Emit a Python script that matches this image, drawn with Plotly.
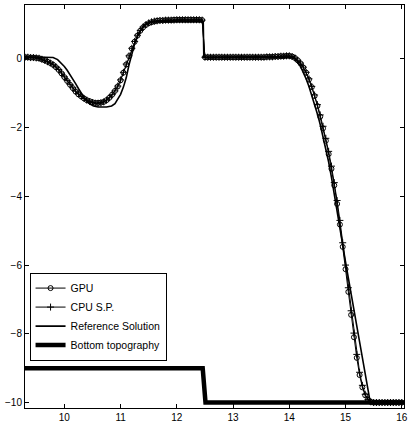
import plotly.graph_objects as go

# Numerical mesh positions (x)
x_grid = [
    9.30, 9.35, 9.40, 9.45, 9.50, 9.55, 9.60, 9.65, 9.70, 9.75,
    9.80, 9.85, 9.90, 9.95, 10.00, 10.05, 10.10, 10.15, 10.20, 10.25,
    10.30, 10.35, 10.40, 10.45, 10.50, 10.55, 10.60, 10.65, 10.70, 10.75,
    10.80, 10.85, 10.90, 10.95, 11.00, 11.05, 11.10, 11.15, 11.20, 11.25,
    11.30, 11.35, 11.40, 11.45, 11.50, 11.55, 11.60, 11.65, 11.70, 11.75,
    11.80, 11.85, 11.90, 11.95, 12.00, 12.05, 12.10, 12.15, 12.20, 12.25,
    12.30, 12.35, 12.40, 12.45, 12.50, 12.55, 12.60, 12.65, 12.70, 12.75,
    12.80, 12.85, 12.90, 12.95, 13.00, 13.05, 13.10, 13.15, 13.20, 13.25,
    13.30, 13.35, 13.40, 13.45, 13.50, 13.55, 13.60, 13.65, 13.70, 13.75,
    13.80, 13.85, 13.90, 13.95, 14.00, 14.05, 14.10, 14.15, 14.20, 14.25,
    14.30, 14.35, 14.40, 14.45, 14.50, 14.55, 14.60, 14.65, 14.70, 14.75,
    14.80, 14.85, 14.90, 14.95, 15.00, 15.05, 15.10, 15.15, 15.20, 15.25,
    15.30, 15.35, 15.40, 15.45, 15.50, 15.55, 15.60, 15.65, 15.70, 15.75,
    15.80, 15.85, 15.90, 15.95, 16.00,
]

gpu_y = [
    0.05, 0.05, 0.04, 0.04, 0.03, 0.02, -0.01, -0.04, -0.08, -0.12,
    -0.17, -0.24, -0.32, -0.42, -0.53, -0.64, -0.75, -0.85, -0.95, -1.03,
    -1.09, -1.15, -1.20, -1.23, -1.26, -1.28, -1.28, -1.27, -1.25, -1.20,
    -1.13, -1.04, -0.93, -0.80, -0.62, -0.40, -0.16, 0.08, 0.30, 0.50,
    0.68, 0.82, 0.92, 0.99, 1.04, 1.07, 1.09, 1.11, 1.12, 1.12,
    1.13, 1.13, 1.13, 1.14, 1.14, 1.14, 1.14, 1.14, 1.14, 1.14,
    1.14, 1.14, 1.14, 1.13, 0.05, 0.05, 0.05, 0.05, 0.05, 0.05,
    0.05, 0.05, 0.05, 0.05, 0.05, 0.05, 0.05, 0.05, 0.05, 0.05,
    0.05, 0.05, 0.05, 0.05, 0.05, 0.05, 0.06, 0.06, 0.06, 0.07,
    0.07, 0.08, 0.08, 0.09, 0.09, 0.07, 0.03, -0.04, -0.13, -0.25,
    -0.40, -0.60, -0.82, -1.08, -1.37, -1.68, -2.02, -2.38, -2.77, -3.20,
    -3.68, -4.22, -4.82, -5.47, -6.12, -6.78, -7.45, -8.10, -8.70, -9.20,
    -9.56, -9.79, -9.92, -9.98, -10.00, -10.00, -10.00, -10.00, -10.00, -10.00,
    -10.00, -10.00, -10.00, -10.00, -10.00,
]

cpu_y = [
    0.05, 0.05, 0.04, 0.04, 0.03, 0.02, -0.01, -0.04, -0.08, -0.12,
    -0.17, -0.23, -0.31, -0.41, -0.52, -0.63, -0.74, -0.84, -0.94, -1.02,
    -1.09, -1.15, -1.20, -1.24, -1.27, -1.29, -1.29, -1.28, -1.25, -1.20,
    -1.13, -1.04, -0.93, -0.79, -0.61, -0.39, -0.15, 0.09, 0.31, 0.51,
    0.69, 0.83, 0.93, 1.00, 1.05, 1.08, 1.10, 1.11, 1.12, 1.12,
    1.13, 1.13, 1.13, 1.13, 1.14, 1.14, 1.14, 1.14, 1.14, 1.14,
    1.14, 1.14, 1.14, 1.13, 0.05, 0.05, 0.05, 0.05, 0.05, 0.05,
    0.05, 0.05, 0.05, 0.05, 0.05, 0.05, 0.05, 0.05, 0.05, 0.05,
    0.05, 0.05, 0.05, 0.05, 0.05, 0.05, 0.06, 0.06, 0.06, 0.07,
    0.07, 0.08, 0.08, 0.09, 0.09, 0.07, 0.03, -0.04, -0.12, -0.24,
    -0.39, -0.58, -0.80, -1.05, -1.33, -1.63, -1.96, -2.31, -2.69, -3.12,
    -3.60, -4.12, -4.70, -5.35, -6.00, -6.66, -7.33, -7.98, -8.60, -9.12,
    -9.50, -9.76, -9.91, -9.98, -10.00, -10.00, -10.00, -10.00, -10.00, -10.00,
    -10.00, -10.00, -10.00, -10.00, -10.00,
]

# Reference solution
ref_x = [
    9.30, 9.50, 9.70, 9.80, 9.88, 9.95, 10.00, 10.05, 10.10, 10.15,
    10.20, 10.25, 10.30, 10.35, 10.40, 10.45, 10.52, 10.60, 10.75, 10.84,
    10.90, 10.95, 11.00, 11.05, 11.10, 11.15, 11.20, 11.25, 11.30, 11.35,
    11.40, 11.45, 11.50, 11.60, 12.00, 12.47, 12.48, 13.50, 13.90, 14.00,
    14.05, 14.10, 14.15, 14.20, 14.25, 14.30, 14.35, 14.40, 14.45, 14.50,
    14.55, 14.60, 14.65, 14.70, 14.75, 14.80, 14.85, 14.90, 15.00, 15.10,
    15.20, 15.30, 15.40, 15.44, 16.04,
]
ref_y = [
    0.06, 0.06, 0.06, 0.04, -0.02, -0.12, -0.22, -0.33, -0.45, -0.58,
    -0.72, -0.86, -1.00, -1.12, -1.22, -1.31, -1.37, -1.40, -1.40, -1.37,
    -1.30, -1.18, -1.03, -0.82, -0.55, -0.17, 0.15, 0.44, 0.65, 0.82,
    0.95, 1.02, 1.06, 1.08, 1.09, 1.09, 0.04, 0.05, 0.05, 0.06,
    0.05, 0.00, -0.09, -0.22, -0.38, -0.58, -0.80, -1.05, -1.32, -1.60,
    -1.91, -2.25, -2.61, -3.00, -3.45, -3.95, -4.45, -4.98, -5.91, -6.84,
    -7.77, -8.70, -9.63, -10.00, -10.00,
]

# Bottom topography
bot_x = [9.30, 12.46, 12.51, 16.04]
bot_y = [-9.0, -9.0, -10.0, -10.0]

x_ticks = [10, 11, 12, 13, 14, 15, 16]
y_ticks = [0, -2, -4, -6, -8, -10]
y_tick_text = ["0", "\u22122", "\u22124", "\u22126", "\u22128", "\u221210"]

FONT = "Liberation Sans, Arial, Helvetica, sans-serif"

fig = go.Figure()
fig.add_trace(go.Scatter(
    x=x_grid, y=gpu_y, mode="lines+markers", name="GPU",
    line=dict(color="black", width=1),
    marker=dict(symbol="circle-open", size=5, color="black", line=dict(width=1, color="black")),
))
fig.add_trace(go.Scatter(
    x=x_grid, y=cpu_y, mode="lines+markers", name="CPU S.P.",
    line=dict(color="black", width=1),
    marker=dict(symbol="cross-thin-open", size=5, color="black", line=dict(width=1, color="black")),
))
fig.add_trace(go.Scatter(
    x=ref_x, y=ref_y, mode="lines", name="Reference Solution",
    line=dict(color="black", width=1.6),
))
fig.add_trace(go.Scatter(
    x=bot_x, y=bot_y, mode="lines", name="Bottom topography",
    line=dict(color="black", width=4.5),
))

axis_common = dict(
    showline=True, linecolor="black", linewidth=1, mirror="ticks",
    ticks="inside", ticklen=4, tickwidth=1, tickcolor="black",
    showgrid=False, zeroline=False, ticklabeloverflow="allow",
    tickfont=dict(family=FONT, size=10, color="black"),
)

fig.update_layout(
    width=410, height=430,
    margin=dict(l=25, r=2, t=5, b=22),
    paper_bgcolor="white", plot_bgcolor="white",
    font=dict(family=FONT, color="black"),
    xaxis=dict(range=[9.3, 16.04], tickvals=x_ticks, ticktext=[str(v) for v in x_ticks], **axis_common),
    yaxis=dict(range=[-10.16, 1.57], tickvals=y_ticks, ticktext=y_tick_text, **axis_common),
    legend=dict(
        x=0.012, y=0.336, xanchor="left", yanchor="top",
        bgcolor="white", bordercolor="black", borderwidth=1,
        font=dict(family=FONT, size=10.5, color="black"),
        itemwidth=30, tracegroupgap=0,
    ),
    showlegend=True,
)

fig.write_html(
    "out.html",
    config={"displayModeBar": False},
    post_script="document.body.style.margin='0px';document.body.style.overflow='hidden';",
)
